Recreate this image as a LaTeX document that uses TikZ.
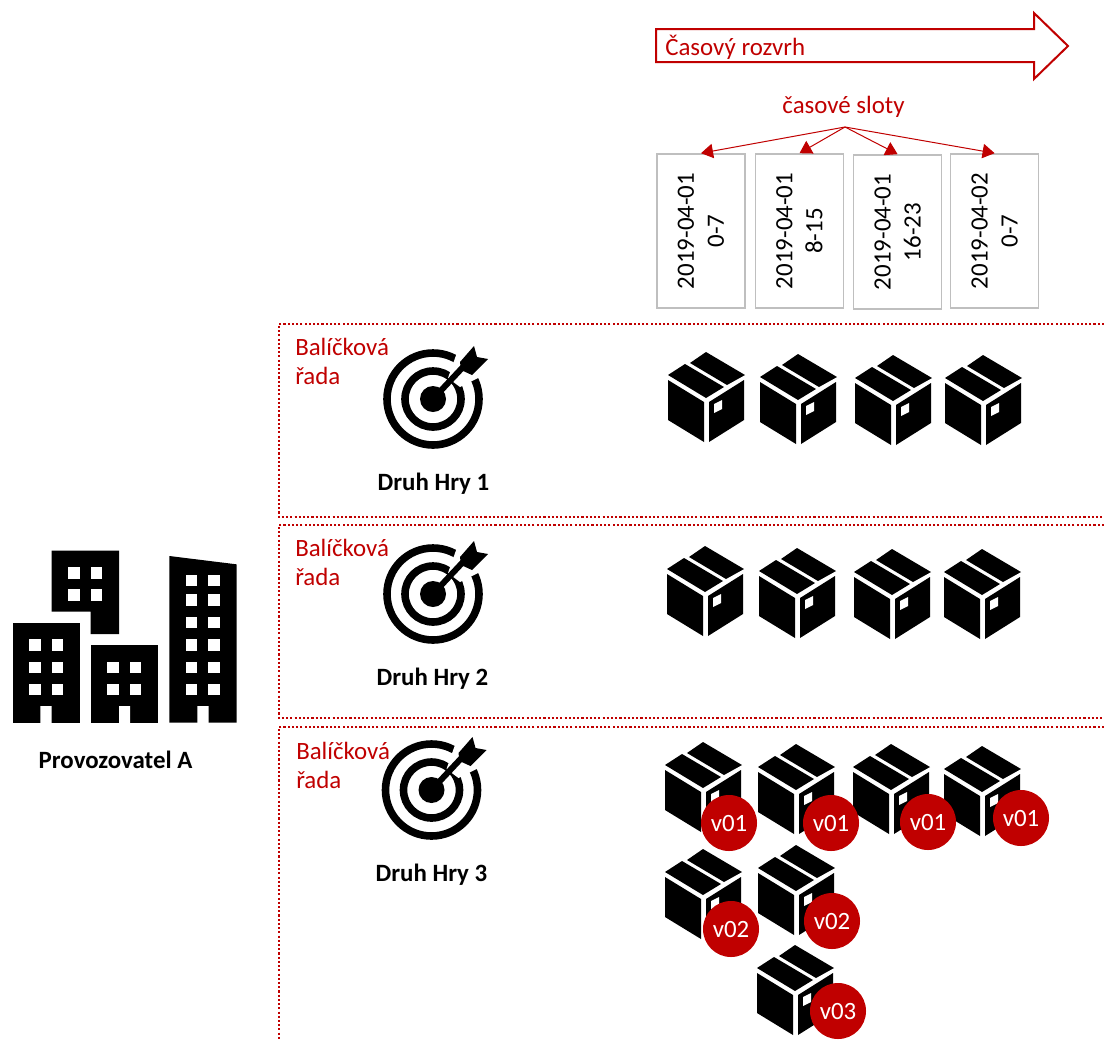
\documentclass[tikz,border=0pt]{standalone}
\usepackage{fontspec}
\setmainfont{Carlito}
\usepackage{xcolor}
\usetikzlibrary{arrows.meta}
\definecolor{gtured}{HTML}{C00000}
\definecolor{slotgray}{HTML}{BFBFBF}
\newcommand{\slottext}[2]{\hspace{2.8pt}\rotatebox{90}{\begin{tabular}{@{}c@{}}#1\\#2\end{tabular}}}

\tikzset{
  pics/balik/.style={code={
    \fill (0,0) -- (39,23) -- (21,33) -- (-16,11) -- cycle;
    \fill (-21,12) -- (18,35) -- (0,46) -- (-38,23) -- cycle;
    \fill (-38,28) -- (-2,50) -- (-2,90) -- (-38,68) -- cycle;
    \fill (3,50) -- (38,28) -- (38,68) -- (3,90) -- cycle;
    \fill[white] (8,52) -- (16,48) -- (16,57) -- (8,61) -- cycle;
  }},
  pics/terc/.style={code={
    \draw[line width=0.19cm] (0,0) circle (46);
    \draw[line width=0.19cm] (0,0) circle (28);
    \fill[white] (15,-21) -- (27,-55) -- (55,-26) -- (27,-12) -- cycle;
    \fill (0,0) circle (13);
    \draw[line width=0.15cm] (0,0) -- (30,-32);
    \fill (27,-37) -- (41,-53) -- (44,-42) -- (55,-40) -- (39,-24) -- (28,-29) -- cycle;
  }}
}

\begin{document}
\begin{tikzpicture}[x=0.025cm, y=-0.025cm,
    slot box/.style={draw=slotgray, line width=0.04cm, minimum width=2.2cm, minimum height=3.85cm, inner sep=0pt, font=\fontsize{17.7}{21.3}\selectfont},
    rada frame/.style={draw=gtured, line width=0.055cm, dash pattern=on 1.5pt off 1.5pt},
    rada label/.style={anchor=west, align=left, inner sep=0pt, text=gtured, font=\fontsize{17.7}{20.5}\selectfont},
    druh label/.style={font=\bfseries\fontsize{17.7}{21}\selectfont},
    verze/.style={circle, fill=gtured, text=white, minimum size=1.4cm, inner sep=0pt, font=\fontsize{17.7}{21}\selectfont},
    slot arrow/.style={draw=gtured, line width=0.025cm, -{Triangle[length=0.3cm, width=0.36cm]}}]
    \useasboundingbox (0,0) rectangle (1104,1040);

    % time arrow
    \draw[gtured, line width=0.05cm] (656,29) -- (1034,29) -- (1034,13) -- (1068,46) -- (1034,79) -- (1034,62) -- (656,62) -- cycle;
    \node[anchor=west, inner sep=0pt, text=gtured, font=\fontsize{17.7}{21}\selectfont] (rozvrh) at (665,47) {Časový rozvrh};

    % slots
    \node[text=gtured, font=\fontsize{17.7}{21}\selectfont] (sloty) at (843.5,106.5) {časové sloty};
    \coordinate (rozcesti) at (845,127);
    \node[slot box] (slot1) at (701,231) {\slottext{2019-04-01}{0-7}};
    \node[slot box] (slot2) at (799.5,231) {\slottext{2019-04-01}{8-15}};
    \node[slot box] (slot3) at (897.6,232) {\slottext{2019-04-01}{16-23}};
    \node[slot box] (slot4) at (994.6,231) {\slottext{2019-04-02}{0-7}};
    \foreach \i in {1,2,3,4}
        \draw[slot arrow] (rozcesti) -- (slot\i.north);

    % rows
    \draw[rada frame] (1104,324) -- (279,324) -- (279,517) -- (1104,517);
    \draw[rada frame] (1104,525) -- (279,525) -- (279,718) -- (1104,718);
    \draw[rada frame] (1104,727) -- (279,727) -- (279,1040);

    \pic at (433,399) {terc};
    \pic at (433,594) {terc};
    \pic at (431.5,790) {terc};

    \node[rada label] (rada1) at (295,361.5) {Balíčková\\řada};
    \node[rada label] (rada2) at (295,562.5) {Balíčková\\řada};
    \node[rada label] (rada3) at (296,765.5) {Balíčková\\řada};
    \node[druh label] (druh1) at (433.5,484) {Druh Hry 1};
    \node[druh label] (druh2) at (432.5,679) {Druh Hry 2};
    \node[druh label] (druh3) at (431.5,875) {Druh Hry 3};

    % packages
    \foreach \x/\y in {706/352, 798/354, 893/355, 983/355, 705/546, 797/548, 892/549, 982/549, 703/742, 796/744, 891/744, 982/746, 703/849, 796/845, 795/945}
        \pic at (\x,\y) {balik};

    \node[verze] (v1a) at (729,823) {v01};
    \node[verze] (v1b) at (831,823) {v01};
    \node[verze] (v1c) at (928,822) {v01};
    \node[verze] (v1d) at (1021,818) {v01};
    \node[verze] (v2a) at (731,929) {v02};
    \node[verze] (v2b) at (832,921) {v02};
    \node[verze] (v3a) at (838,1011) {v03};

    % buildings
    \begin{scope}[shift={(0,540)}, x=0.008333cm, y=-0.008333cm]
        \fill (38,248) rectangle (240,548);
        \fill (272,315) rectangle (475,548);
        \fill (508,48) -- (710,73) -- (710,548) -- (508,548) -- cycle;
        \fill (155,32) -- (357,32) -- (357,282) -- (272,282) -- (272,215) -- (155,215) -- cycle;
        \fill[white] (121,498) rectangle (155,549) (357,498) rectangle (390,549) (592,498) rectangle (626,549);
        \foreach \x/\y in {88/298, 155/298, 88/365, 155/365, 88/432, 155/432, 322/365, 390/365, 322/432, 390/432, 205/82, 272/82, 205/148, 272/148, 558/105, 625/105, 558/163, 625/163, 558/231, 625/231, 558/298, 625/298, 558/365, 625/365, 558/432, 625/432}
            \fill[white] (\x,\y) rectangle ++(34,34);
    \end{scope}
    \node[druh label] (provozovatel) at (115.5,760) {Provozovatel A};
\end{tikzpicture}
\end{document}
